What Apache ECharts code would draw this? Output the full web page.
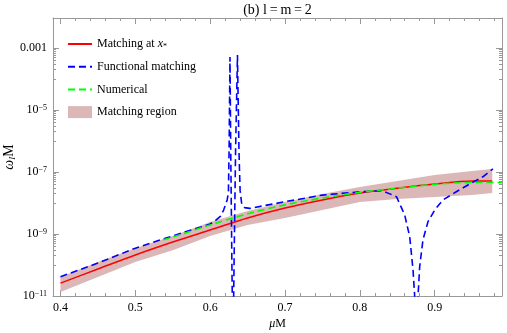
<!DOCTYPE html>
<html>
<head>
<meta charset="utf-8" />
<script src="https://cdn.jsdelivr.net/npm/echarts@6.0.0/dist/echarts.min.js"></script>
</head>
<body style="margin:0">
<div id="main" style="width:507px;height:333px;"></div>
<script>
// matching at x_* (red, solid)
const redX = [0.4, 0.45, 0.5, 0.55, 0.6, 0.65, 0.7, 0.75, 0.8, 0.85, 0.9, 0.95, 0.977];
const redY = [2.6e-11, 7.4e-11, 2.1e-10, 5.5e-10, 1.35e-9, 3.3e-9, 6.9e-9, 1.26e-8, 2.1e-8, 3.0e-8, 4.1e-8, 5.1e-8, 5.1e-8];

// numerical (green, dashed)
const greenX = [0.537, 0.55, 0.6, 0.65, 0.7, 0.75, 0.8, 0.85, 0.9, 0.95, 0.99];
const greenY = [6.5e-10, 8.0e-10, 1.95e-9, 4.5e-9, 8.7e-9, 1.45e-8, 2.2e-8, 3.0e-8, 4.0e-8, 4.6e-8, 4.6e-8];

// matching region (band)
const bandX = [0.4, 0.45, 0.5, 0.55, 0.6, 0.65, 0.7, 0.75, 0.8, 0.85, 0.9, 0.95, 0.977];
const bandHigh = [4.1e-11, 1.26e-10, 3.5e-10, 8.7e-10, 2.45e-9, 5.5e-9, 1.07e-8, 1.95e-8, 3.3e-8, 5.1e-8, 8.0e-8, 1.07e-7, 1.26e-7];
const bandLow = [1.35e-11, 4.1e-11, 1.26e-10, 3.0e-10, 8.7e-10, 1.95e-9, 3.3e-9, 5.9e-9, 1.07e-8, 1.35e-8, 1.55e-8, 1.8e-8, 2.1e-8];

// functional matching (blue, dashed)
const blueX = [0.4, 0.45, 0.5, 0.55, 0.6, 0.606, 0.614, 0.618, 0.6227, 0.6244, 0.6253, 0.6265, 0.6275, 0.629, 0.6305,
  0.632, 0.634, 0.6365, 0.6385, 0.64, 0.642, 0.646, 0.653, 0.7, 0.75, 0.8, 0.83, 0.849, 0.86, 0.8667, 0.8711,
  0.8733, 0.8755, 0.8778, 0.88, 0.8844, 0.8911, 0.9, 0.911, 0.9289, 0.9498, 0.9644, 0.9778];
const blueY = [4.2e-11, 1.15e-10, 3.5e-10, 8.7e-10, 2.1e-9, 2.6e-9, 3.8e-9, 5.9e-9, 1.26e-8, 2.1e-8, 5.1e-7, 5.1e-4, 5.1e-7, 1.45e-10, 1e-13,
  1.45e-10, 5.1e-7, 5.9e-4, 5.1e-7, 2.6e-8, 1.0e-8, 7.1e-9, 6.7e-9, 1.1e-8, 1.8e-8, 2.3e-8, 2.5e-8, 1.6e-8, 4.1e-9, 8.1e-10, 6.9e-11,
  1e-11, 1e-13, 1e-11, 8.9e-11, 6.5e-10, 2.5e-9, 5.9e-9, 1.26e-8, 2.3e-8, 4.5e-8, 7.0e-8, 1.26e-7];

// ticks
const xLabels = [0.4, 0.5, 0.6, 0.7, 0.8, 0.9];
const yLabelExp = [-11, -9, -7, -5, -3];
const yMinorMant = [1, 2, 3, 4, 5, 6, 7, 8, 9];

const bandColor = '#dcb7b7';
const frame = '#999';
const serif = 'Liberation Serif';

var myChart = echarts.init(document.getElementById('main'));

const lg = v => Math.log10(v);
const pairs = (xs, ys) => xs.map((x, i) => [x, lg(ys[i])]);

let xMinor = [];
for (let i = 0; i <= 29; i++) xMinor.push(+(0.4 + 0.02 * i).toFixed(2));
let yMinor = [];
yLabelExp.forEach(n => { if (n > -11) yMinorMant.forEach(m => yMinor.push(n - 1 + lg(m))); });

const bandData = bandX.map((x, i) => [x, lg(bandLow[i]), lg(bandHigh[i])]);

function xAx(pos, ticks, len, main) {
  return {
    type: 'value', position: pos, min: 0.39, max: 0.99,
    axisLine: { show: main, lineStyle: { color: frame, width: 1 } },
    axisTick: { show: true, inside: true, length: len, customValues: ticks, lineStyle: { color: frame } },
    axisLabel: { show: main && pos === 'bottom', customValues: xLabels, margin: 6, color: '#000', fontSize: 12, fontFamily: serif,
      formatter: v => v.toFixed(1) },
    splitLine: { show: false },
    name: main && pos === 'bottom' ? '{i|μ}M' : '',
    nameLocation: 'middle', nameGap: 22, nameMoveOverlap: false,
    nameTextStyle: { fontFamily: serif, fontSize: 12, color: '#000', rich: { i: { fontStyle: 'italic', fontFamily: serif, fontSize: 12 } } }
  };
}
function yAx(pos, ticks, len, main) {
  return {
    type: 'value', position: pos, min: -11, max: -2.032,
    axisLine: { show: main, lineStyle: { color: frame, width: 1 } },
    axisTick: { show: true, inside: true, length: len, customValues: ticks, lineStyle: { color: frame } },
    axisLabel: { show: main && pos === 'left', customValues: yLabelExp, margin: 6, color: '#000', fontSize: 12, fontFamily: serif,
      formatter: v => v === -3 ? '0.001' : '10{sup|−' + Math.abs(v) + '}',
      rich: { sup: { fontSize: 8, fontFamily: serif, verticalAlign: 'top', lineHeight: 6, color: '#000' } } },
    splitLine: { show: false },
    name: main && pos === 'left' ? '{i|ω}{sub|I}M' : '',
    nameLocation: 'middle', nameGap: 36, nameRotate: 90, nameMoveOverlap: false,
    nameTextStyle: { fontFamily: serif, fontSize: 14, color: '#000', lineHeight: 15,
      rich: { i: { fontStyle: 'italic', fontFamily: serif, fontSize: 14, lineHeight: 15 },
        sub: { fontStyle: 'italic', fontFamily: serif, fontSize: 9, verticalAlign: 'bottom', lineHeight: 6 } } }
  };
}

option = {
  animation: false,
  textStyle: { fontFamily: serif },
  grid: { left: 53, right: 5, top: 18, bottom: 37, outerBoundsMode: 'none' },
  graphic: [
    { type: 'text', x: 277.5, y: 10,
      style: { text: '(b) l\u2009=\u2009m\u2009=\u20092', fontFamily: serif, fontSize: 14, fill: '#000', align: 'center', verticalAlign: 'middle' } }
  ],
  legend: {
    orient: 'vertical', left: 67, top: 37, padding: 0,
    itemWidth: 24, itemHeight: 12, itemGap: 8.7, selectedMode: false,
    itemStyle: { opacity: 0 },
    data: [
      { name: 'Matching at x*' },
      { name: 'Functional matching' },
      { name: 'Numerical' },
      { name: 'Matching region', icon: 'rect', itemStyle: { color: bandColor, opacity: 1 } }
    ],
    formatter: n => n === 'Matching at x*' ? 'Matching at {i|x}{sub|*}' : n,
    textStyle: { fontFamily: serif, fontSize: 12, color: '#000', lineHeight: 14,
      rich: { i: { fontStyle: 'italic', fontFamily: serif, fontSize: 12, lineHeight: 14 },
        sub: { fontFamily: serif, fontSize: 8, verticalAlign: 'bottom', lineHeight: 6 } } }
  },
  xAxis: [
    xAx('bottom', xLabels, 6, true),
    xAx('bottom', xMinor, 3, false),
    xAx('top', xLabels, 6, true),
    xAx('top', xMinor, 3, false)
  ],
  yAxis: [
    yAx('left', yLabelExp, 6, true),
    yAx('left', yMinor, 3, false),
    yAx('right', yLabelExp, 6, true),
    yAx('right', yMinor, 3, false)
  ],
  series: [
    { name: 'Matching region', type: 'custom', data: bandData, itemStyle: { color: bandColor },
      encode: { x: 0, y: [1, 2] },
      renderItem: function (params, api) {
        if (params.dataIndex !== 0) return;
        const top = bandData.map(d => api.coord([d[0], d[2]]));
        const bot = bandData.map(d => api.coord([d[0], d[1]])).reverse();
        return { type: 'polygon', shape: { points: top.concat(bot) }, style: { fill: bandColor } };
      } },
    { name: 'Matching at x*', type: 'line', data: pairs(redX, redY), symbol: 'none', smooth: 0.3,
      color: '#ff0000', lineStyle: { color: '#ff0000', width: 1.5 } },
    { name: 'Functional matching', type: 'line', data: pairs(blueX, blueY), symbol: 'none',
      color: '#0000ff', lineStyle: { color: '#0000ff', width: 1.6, type: [7, 4] } },
    { name: 'Numerical', type: 'line', data: pairs(greenX, greenY), symbol: 'none', smooth: 0.3,
      color: '#00ff00', lineStyle: { color: '#00ff00', width: 1.6, type: [7, 4] } }
  ]
};

myChart.setOption(option);
</script>
</body>
</html>
